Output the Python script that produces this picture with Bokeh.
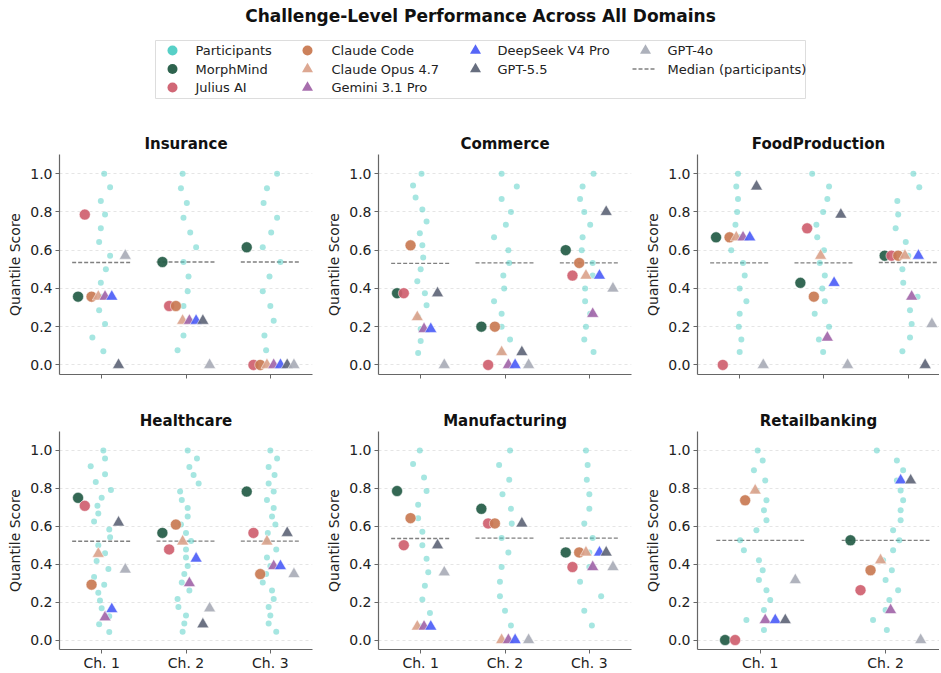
from bokeh.plotting import figure
from bokeh.layouts import column, row
from bokeh.models import Range1d, FixedTicker, PrintfTickFormatter
from bokeh.core.properties import value
from bokeh.embed import file_html
from bokeh.resources import INLINE
import numpy as np

FONT = "DejaVu Sans"

title_text = "Challenge-Level Performance Across All Domains"
domains = ["Insurance", "Commerce", "FoodProduction", "Healthcare", "Manufacturing", "Retailbanking"]
challenge_labels = ["Ch. 1", "Ch. 2", "Ch. 3"]
participant_label = "Participants"
median_label = "Median (participants)"
y_label = "Quantile Score"

agents = ["MorphMind", "Julius AI", "Claude Code", "Claude Opus 4.7",
          "Gemini 3.1 Pro", "DeepSeek V4 Pro", "GPT-5.5", "GPT-4o"]
agent_colors = ["#235b45", "#cf5f6f", "#c97a52", "#dba38c",
                "#a266a9", "#4d5ef7", "#5f6678", "#a9adb7"]
agent_markers = ["circle", "circle", "circle", "triangle",
                 "triangle", "triangle", "triangle", "triangle"]
participant_color = "#4ecdc4"

# ---------------- Insurance ----------------
insurance_participants = [
    [1.0, 0.929, 0.857, 0.786, 0.714, 0.643, 0.571, 0.5, 0.429, 0.357, 0.286, 0.214, 0.143, 0.071],
    [1.0, 0.923, 0.846, 0.769, 0.692, 0.615, 0.538, 0.462, 0.385, 0.308, 0.231, 0.154, 0.077],
    [1.0, 0.923, 0.846, 0.769, 0.692, 0.615, 0.538, 0.462, 0.385, 0.308, 0.231, 0.154, 0.077],
]
insurance_jitter = [
    [0.03, 0.10, -0.01, 0.04, -0.01, -0.03, 0.10, 0.05, -0.01, 0.0, -0.03, 0.04, -0.11, 0.02],
    [-0.04, -0.06, 0.01, -0.03, 0.05, 0.12, -0.03, 0.03, 0.02, -0.03, 0.05, -0.03, -0.10],
    [0.08, -0.04, -0.08, 0.08, 0.01, -0.09, 0.12, -0.01, -0.09, 0.0, 0.04, -0.07, -0.05],
]
insurance_agents = [
    [0.357, 0.786, 0.357, 0.357, 0.357, 0.357, 0.0, 0.571],
    [0.538, 0.308, 0.308, 0.231, 0.231, 0.231, 0.231, 0.0],
    [0.615, 0.0, 0.0, 0.0, 0.0, 0.0, 0.0, 0.0],
]

# ---------------- Commerce ----------------
commerce_participants = [
    [1.0, 0.938, 0.875, 0.812, 0.75, 0.688, 0.625, 0.562, 0.5, 0.438, 0.375, 0.312, 0.25, 0.188, 0.125, 0.062],
    [1.0, 0.933, 0.867, 0.8, 0.733, 0.667, 0.6, 0.533, 0.467, 0.4, 0.333, 0.267, 0.2, 0.133, 0.067],
    [1.0, 0.933, 0.867, 0.8, 0.733, 0.667, 0.6, 0.533, 0.467, 0.4, 0.333, 0.267, 0.2, 0.133, 0.067],
]
commerce_jitter = [
    [0.01, -0.09, -0.06, 0.02, 0.07, -0.01, 0.02, 0.03, 0.0, -0.04, 0.05, 0.07, -0.03, 0.0, 0.0, -0.03],
    [-0.04, 0.14, -0.04, 0.07, 0.01, -0.13, 0.04, 0.05, -0.02, -0.01, -0.13, -0.04, -0.04, 0.06, -0.04],
    [0.05, -0.08, -0.11, -0.06, 0.01, -0.08, -0.09, 0.04, 0.04, -0.05, -0.05, 0.01, -0.04, -0.06, 0.05],
]
commerce_agents = [
    [0.375, 0.375, 0.625, 0.25, 0.188, 0.188, 0.375, 0.0],
    [0.2, 0.0, 0.2, 0.067, 0.0, 0.0, 0.067, 0.0],
    [0.6, 0.467, 0.533, 0.467, 0.267, 0.467, 0.8, 0.4],
]

# ---------------- FoodProduction ----------------
food_participants = [
    [1.0, 0.933, 0.867, 0.8, 0.733, 0.667, 0.6, 0.533, 0.467, 0.4, 0.333, 0.267, 0.2, 0.133, 0.067],
    [1.0, 0.933, 0.867, 0.8, 0.733, 0.667, 0.6, 0.533, 0.467, 0.4, 0.333, 0.267, 0.2, 0.133, 0.067],
    [1.0, 0.929, 0.857, 0.786, 0.714, 0.643, 0.571, 0.5, 0.429, 0.357, 0.286, 0.214, 0.143, 0.071],
]
food_jitter = [
    [-0.02, -0.04, -0.02, -0.03, -0.05, 0.0, -0.10, 0.04, 0.06, 0.0, 0.08, 0.0, -0.01, 0.02, 0.0],
    [-0.14, 0.06, 0.04, -0.01, -0.09, -0.08, 0.0, -0.05, 0.01, -0.02, 0.01, -0.11, 0.06, -0.06, -0.01],
    [0.06, 0.13, -0.13, -0.12, -0.15, -0.03, 0.0, -0.07, -0.06, 0.11, 0.02, 0.04, 0.02, -0.07],
]
food_agents = [
    [0.667, 0.0, 0.667, 0.667, 0.667, 0.667, 0.933, 0.0],
    [0.429, 0.714, 0.357, 0.571, 0.143, 0.429, 0.786, 0.0],
    [0.571, 0.571, 0.571, 0.571, 0.357, 0.571, 0.0, 0.214],
]

# ---------------- Healthcare ----------------
health_participants = [
    [1.0, 0.958, 0.917, 0.875, 0.833, 0.792, 0.75, 0.708, 0.667, 0.625, 0.583, 0.542,
     0.5, 0.458, 0.417, 0.375, 0.333, 0.292, 0.25, 0.208, 0.167, 0.125, 0.083, 0.042],
    [1.0, 0.957, 0.913, 0.870, 0.826, 0.783, 0.739, 0.696, 0.652, 0.609, 0.565, 0.522,
     0.478, 0.435, 0.391, 0.348, 0.304, 0.261, 0.217, 0.174, 0.130, 0.087, 0.043],
    [1.0, 0.957, 0.913, 0.870, 0.826, 0.783, 0.739, 0.696, 0.652, 0.609, 0.565, 0.522,
     0.478, 0.435, 0.391, 0.348, 0.304, 0.261, 0.217, 0.174, 0.130, 0.087, 0.043],
]
health_jitter = [
    [0.02, 0.04, -0.13, 0.04, -0.07, 0.11, 0.0, -0.05, -0.04, -0.09, 0.09, 0.10,
     -0.04, 0.04, -0.06, 0.08, -0.09, 0.03, -0.04, -0.02, 0.0, 0.09, -0.03, 0.09],
    [0.02, 0.13, 0.04, 0.09, 0.15, -0.07, -0.05, 0.02, 0.02, -0.06, 0.0, 0.06,
     0.0, 0.0, 0.02, -0.02, -0.05, 0.04, -0.10, -0.09, 0.0, -0.02, -0.04],
    [0.0, 0.08, -0.02, 0.05, -0.02, 0.04, -0.04, 0.04, 0.02, 0.06, -0.03, -0.04,
     0.07, -0.04, 0.0, -0.05, -0.09, 0.02, 0.04, -0.02, 0.0, -0.02, 0.07],
]
health_agents = [
    [0.75, 0.708, 0.292, 0.455, 0.12, 0.163, 0.62, 0.372],
    [0.565, 0.478, 0.609, 0.52, 0.30, 0.43, 0.083, 0.167],
    [0.783, 0.565, 0.348, 0.52, 0.39, 0.39, 0.565, 0.348],
]

# ---------------- Manufacturing ----------------
manuf_participants = [
    [1.0, 0.929, 0.857, 0.786, 0.714, 0.643, 0.571, 0.5, 0.429, 0.357, 0.286, 0.214, 0.143, 0.071],
    [1.0, 0.923, 0.846, 0.769, 0.692, 0.615, 0.538, 0.462, 0.385, 0.308, 0.231, 0.154, 0.077],
    [1.0, 0.923, 0.846, 0.769, 0.692, 0.615, 0.538, 0.462, 0.385, 0.308, 0.231, 0.154, 0.077],
]
manuf_jitter = [
    [-0.01, -0.09, 0.04, 0.07, -0.03, -0.03, 0.02, 0.02, 0.07, 0.09, 0.05, 0.02, 0.11, 0.0],
    [0.06, -0.07, 0.05, -0.03, 0.07, 0.08, -0.04, 0.04, -0.04, -0.06, -0.06, 0.0, 0.07],
    [-0.04, -0.02, -0.03, 0.0, 0.0, -0.06, 0.04, 0.0, 0.0, -0.11, 0.14, -0.06, 0.03],
]
manuf_agents = [
    [0.786, 0.5, 0.643, 0.071, 0.071, 0.071, 0.5, 0.357],
    [0.692, 0.615, 0.615, 0.0, 0.0, 0.0, 0.615, 0.0],
    [0.462, 0.385, 0.462, 0.462, 0.385, 0.462, 0.462, 0.385],
]

# ---------------- Retailbanking ----------------
retail_participants = [
    [1.0, 0.947, 0.895, 0.842, 0.789, 0.737, 0.684, 0.632, 0.579, 0.526,
     0.474, 0.421, 0.368, 0.316, 0.263, 0.211, 0.158, 0.105, 0.053],
    [1.0, 0.947, 0.895, 0.842, 0.789, 0.737, 0.684, 0.632, 0.579, 0.526,
     0.474, 0.421, 0.368, 0.316, 0.263, 0.211, 0.158, 0.105, 0.053],
]
retail_jitter = [
    [-0.02, 0.02, -0.05, 0.04, -0.03, 0.05, 0.03, 0.05, -0.03, -0.16,
     -0.13, -0.01, 0.02, -0.01, 0.05, 0.08, 0.03, -0.11, 0.03],
    [-0.07, 0.09, 0.14, 0.09, 0.12, 0.14, 0.12, 0.12, 0.06, 0.11,
     0.06, -0.02, 0.05, 0.0, 0.10, 0.03, 0.0, -0.10, 0.01],
]
retail_agents = [
    [0.0, 0.0, 0.737, 0.789, 0.105, 0.105, 0.105, 0.316],
    [0.526, 0.263, 0.368, 0.421, 0.158, 0.842, 0.842, 0.0],
]

AGENT_SPACING = 0.08
MEDIAN_HALF = 0.35


def make_panel(name, parts, jits, agent_vals, x_end, width, height,
               b_left, b_right, b_top, b_bottom, show_xlabels):
    n = len(parts)
    p = figure(width=width, height=height,
               x_range=Range1d(-0.5, x_end), y_range=Range1d(-0.05, 1.1),
               output_backend="svg", toolbar_location=None,
               min_border_left=b_left, min_border_right=b_right,
               min_border_top=b_top, min_border_bottom=b_bottom)
    p.outline_line_color = None
    p.background_fill_color = "white"
    p.border_fill_color = "white"

    p.title.text = name
    p.title.align = "center"
    p.title.text_font = FONT
    p.title.text_font_size = "15px"
    p.title.text_font_style = "bold"
    p.title.text_color = "#111111"
    p.title.standoff = 3

    p.xgrid.visible = False
    p.ygrid.grid_line_color = "#dedede"
    p.ygrid.grid_line_dash = "3 3"
    p.ygrid.grid_line_width = 0.8

    p.xaxis.ticker = FixedTicker(ticks=list(range(n)))
    if show_xlabels:
        p.xaxis.major_label_overrides = {i: challenge_labels[i] for i in range(n)}
        p.xaxis.major_label_text_font_size = "14px"
    else:
        p.xaxis.major_label_overrides = {i: "" for i in range(n)}
        p.xaxis.major_label_text_font_size = "0px"
    p.yaxis.ticker = FixedTicker(ticks=[0.0, 0.2, 0.4, 0.6, 0.8, 1.0])
    p.yaxis.formatter = PrintfTickFormatter(format="%.1f")
    p.yaxis.major_label_text_font_size = "14px"
    p.yaxis.axis_label = y_label
    p.yaxis.axis_label_text_font = FONT
    p.yaxis.axis_label_text_font_size = "14px"
    p.yaxis.axis_label_text_font_style = "normal"
    p.yaxis.axis_label_text_color = "#222222"
    p.yaxis.axis_label_standoff = 4
    for ax in (p.xaxis, p.yaxis):
        ax.major_label_text_font = FONT
        ax.major_label_text_color = "#222222"
        ax.axis_line_color = "#666666"
        ax.axis_line_width = 1.2
        ax.major_tick_line_color = "#666666"
        ax.major_tick_out = 4
        ax.major_tick_in = 0
        ax.minor_tick_line_color = None
    p.xaxis.major_label_standoff = 1
    p.yaxis.major_label_standoff = 3

    # median lines
    meds = [float(np.median(v)) for v in parts]
    p.segment(x0=[c - MEDIAN_HALF for c in range(n)], x1=[c + MEDIAN_HALF for c in range(n)],
              y0=meds, y1=meds, line_color="#808080", line_width=1.3, line_dash="4 2")

    # participants
    px, py = [], []
    for c in range(n):
        for y, j in zip(parts[c], jits[c]):
            px.append(c + j)
            py.append(y)
    p.scatter(px, py, marker="circle", size=6, fill_color=participant_color,
              fill_alpha=0.5, line_color=None)

    # agents
    for i, ag in enumerate(agents):
        xs = [c + (i - 3.5) * AGENT_SPACING for c in range(n)]
        ys = [agent_vals[c][i] for c in range(n)]
        sz = 11 if agent_markers[i] == "circle" else 12
        p.scatter(xs, ys, marker=agent_markers[i], size=sz,
                  fill_color=agent_colors[i], fill_alpha=0.92,
                  line_color="white", line_width=0.5)
    return p


HW, HH = 939, 112
ROW1_H, ROW2_H = 276, 285
cols = [(318, 59, 6), (320, 60, 7), (301, 59, 0)]

data = [
    (insurance_participants, insurance_jitter, insurance_agents),
    (commerce_participants, commerce_jitter, commerce_agents),
    (food_participants, food_jitter, food_agents),
    (health_participants, health_jitter, health_agents),
    (manuf_participants, manuf_jitter, manuf_agents),
    (retail_participants, retail_jitter, retail_agents),
]

panels = []
for k, name in enumerate(domains):
    parts, jits, ags = data[k]
    w, bl, br = cols[k % 3]
    top = k < 3
    n = len(parts)
    if k % 3 == 2:
        x_end = 2.37 if n == 3 else 1.43
    else:
        x_end = 2.5
    if top:
        pnl = make_panel(name, parts, jits, ags, x_end, w, ROW1_H, bl, br, 42, 14, False)
    else:
        pnl = make_panel(name, parts, jits, ags, x_end, w, ROW2_H, bl, br, 43, 21, True)
    panels.append(pnl)

# ---------------- header: title + legend ----------------
h = figure(width=HW, height=HH, x_range=Range1d(0, HW), y_range=Range1d(HH, 0),
           output_backend="svg", toolbar_location=None,
           x_axis_location=None, y_axis_location=None, min_border=0)
h.grid.visible = False
h.outline_line_color = None

h.text(x=[480], y=[15], text=[title_text], text_font=value(FONT), text_font_size="17px",
       text_font_style="bold", text_align="center", text_baseline="middle", text_color="#111111")

h.quad(left=[155], right=[805], top=[40], bottom=[98], fill_color="white",
       line_color="#dddddd", line_width=1)

mark_x = [172, 307, 475, 645]
text_x = [195, 331, 497, 667]
row_y = [50, 68.5, 87]

entries = [(participant_label, "circle", participant_color, 0, 0)]
slots = [(0, 1), (0, 2), (1, 0), (1, 1), (1, 2), (2, 0), (2, 1), (3, 0)]
for i, ag in enumerate(agents):
    cidx, ridx = slots[i]
    entries.append((ag, agent_markers[i], agent_colors[i], cidx, ridx))

for lab, mk, colr, cidx, ridx in entries:
    sz = 10 if mk == "circle" else 11
    h.scatter([mark_x[cidx]], [row_y[ridx]], marker=mk, size=sz, fill_color=colr,
              fill_alpha=0.95, line_color=None)
    h.text(x=[text_x[cidx]], y=[row_y[ridx]], text=[lab], text_font=value(FONT),
           text_font_size="13px", text_align="left", text_baseline="middle", text_color="#222222")

h.segment(x0=[632], x1=[656], y0=[row_y[1]], y1=[row_y[1]], line_color="#808080",
          line_width=1.3, line_dash="4 2")
h.text(x=[text_x[3]], y=[row_y[1]], text=[median_label], text_font=value(FONT),
       text_font_size="13px", text_align="left", text_baseline="middle", text_color="#222222")

layout = column(h, row(*panels[:3]), row(*panels[3:]))
open("out.html", "w").write(file_html(layout, INLINE, title=title_text))
